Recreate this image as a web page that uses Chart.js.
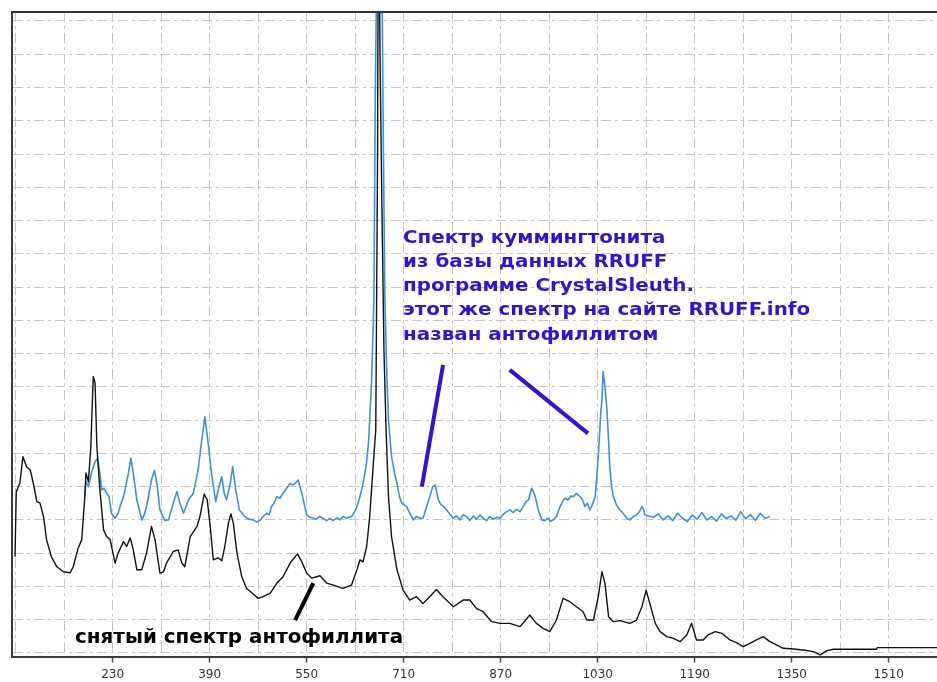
<!DOCTYPE html>
<html>
<head>
<meta charset="utf-8">
<script src="https://cdn.jsdelivr.net/npm/chart.js@4.4.1/dist/chart.umd.min.js"></script>
<style>
  html, body { margin: 0; padding: 0; background: #fff; }
  canvas { display: block; }
</style>
</head>
<body>
<canvas id="spectrum" width="937" height="682"></canvas>
<script>
// measured spectrum (black), Raman shift cm-1 / intensity
const blackX = [69, 71, 77, 82, 88, 94, 96, 99, 105, 110, 116, 121, 129, 138, 149, 160, 165, 173, 179, 184,
  186, 190, 194, 198, 201, 204, 209, 215, 220, 226, 234, 239, 248, 253, 259, 264, 270, 278, 286, 294,
  300, 308, 314, 319, 330, 338, 344, 349, 358, 369, 374, 381, 386, 391, 396, 404, 410, 415, 421, 425,
  429, 435, 443, 451, 460, 470, 478, 490, 501, 511, 523, 535, 542, 550, 558, 572, 583, 594, 610, 624,
  633, 638, 643, 649, 654, 660, 664, 667, 668.5, 671, 674, 677.5, 681, 685, 690, 699, 709, 720, 731, 742,
  753, 764, 775, 792, 808, 819, 830, 841, 855, 869, 885, 902, 918, 929, 940, 951, 962, 973, 984, 995,
  1006, 1012, 1023, 1031, 1037, 1042, 1048, 1056, 1067, 1083, 1094, 1103, 1110, 1116, 1125, 1133, 1144, 1155, 1166, 1177,
  1185, 1193, 1204, 1212, 1224, 1235, 1248, 1259, 1270, 1281, 1292, 1303, 1314, 1325, 1336, 1353, 1369, 1386, 1397, 1408,
  1419, 1490, 1491, 1590];
const blackY = [289, 484, 511, 590, 560, 550, 535, 511, 455, 451, 410, 340, 289, 259, 244, 241, 259, 315, 340, 466,
  541, 515, 620, 831, 812, 620, 490, 370, 350, 340, 270, 300, 335, 320, 346, 310, 250, 250, 301, 380,
  340, 240, 244, 271, 305, 310, 271, 259, 350, 380, 410, 478, 460, 380, 280, 286, 277, 320, 391, 418,
  391, 301, 229, 194, 180, 164, 169, 180, 210, 229, 271, 298, 274, 240, 225, 232, 210, 204, 194, 204,
  250, 280, 274, 320, 410, 570, 670, 1500, 2400, 1800, 1360, 910, 670, 469, 350, 250, 189, 159, 169, 149,
  169, 191, 169, 139, 159, 159, 134, 124, 94, 89, 89, 79, 114, 89, 74, 64, 99, 164, 154, 139,
  124, 99, 99, 169, 244, 210, 109, 94, 97, 89, 99, 139, 189, 149, 89, 64, 49, 44, 34, 54,
  89, 39, 39, 54, 64, 59, 39, 31, 19, 29, 39, 49, 34, 24, 14, 12, 9, 4, -6, 7,
  11, 11, 16, 16];

// RRUFF reference spectrum (blue)
const blueX = [184, 186, 190, 195, 201, 205, 209, 212, 216, 220, 224, 228, 234, 239, 243, 248, 256, 260, 264, 270,
  278, 282, 286, 294, 299, 303, 308, 316, 322, 326, 330, 336, 341, 347, 355, 363, 371, 377, 382, 388,
  393, 400, 404, 410, 414, 418, 424, 428, 433, 439, 448, 455, 462, 467, 473, 478, 484, 488, 492, 496,
  501, 506, 511, 517, 523, 527, 531, 536, 542, 550, 555, 561, 566, 571, 577, 583, 588, 594, 600, 605,
  610, 616, 624, 628, 633, 638, 643, 648, 652, 657, 661, 663, 665, 669, 674, 676, 679, 682.5, 685, 690,
  695, 699, 703, 707, 711, 715, 720, 726, 731, 737, 742, 748, 753, 758, 762, 765, 767, 772, 776, 781,
  786, 792, 797, 803, 808, 814, 819, 825, 830, 836, 841, 847, 852, 858, 864, 869, 875, 880, 885, 891,
  896, 902, 907, 912, 916, 921, 924, 927, 932, 938, 943, 948, 952, 957, 962, 968, 972, 976, 981, 986,
  990, 995, 1001, 1005, 1009, 1013, 1017, 1021, 1026, 1031, 1035, 1037, 1039, 1042, 1045, 1048, 1050, 1053, 1056, 1061,
  1067, 1072, 1078, 1083, 1089, 1094, 1099, 1103, 1106, 1108, 1114, 1122, 1130, 1138, 1146, 1154, 1162, 1170, 1178, 1186,
  1194, 1202, 1210, 1218, 1226, 1234, 1242, 1250, 1258, 1266, 1274, 1282, 1290, 1298, 1306, 1314];
const blueY = [470, 515, 500, 541, 575, 585, 540, 490, 495, 480, 470, 420, 405, 420, 445, 470, 540, 585, 540, 460,
  400, 415, 440, 520, 548, 510, 430, 398, 400, 425, 450, 485, 450, 420, 460, 480, 550, 640, 710, 625,
  540, 455, 490, 530, 480, 460, 510, 560, 490, 430, 410, 402, 400, 394, 398, 410, 420, 415, 440, 450,
  470, 465, 480, 495, 510, 505, 510, 520, 480, 415, 408, 405, 402, 410, 405, 398, 404, 398, 406, 400,
  410, 405, 410, 420, 440, 470, 510, 560, 630, 811, 1061, 1641, 1963, 2600, 2100, 1632, 1061, 820, 700, 590,
  540, 510, 470, 450, 445, 440, 420, 400, 410, 405, 405, 440, 470, 500, 505, 480, 460, 445, 440, 430,
  418, 405, 412, 400, 415, 410, 398, 412, 402, 415, 405, 398, 410, 402, 408, 405, 418, 425, 430, 422,
  432, 425, 440, 455, 460, 495, 485, 470, 430, 400, 398, 405, 396, 400, 410, 440, 455, 465, 460, 472,
  470, 480, 470, 460, 440, 450, 430, 445, 470, 590, 720, 760, 846, 800, 740, 640, 560, 500, 470, 445,
  430, 420, 405, 400, 410, 415, 425, 440, 430, 415, 412, 408, 418, 400, 412, 398, 420, 405, 395, 415,
  402, 422, 400, 410, 396, 418, 404, 412, 399, 425, 403, 416, 398, 420, 405, 410];

// annotation strokes, in the same axis units
const arrowBlue1 = [[775, 866], [740, 500]];
const arrowBlue2 = [[885, 851], [1014, 660]];
const arrowBlack = [[561, 210], [531, 99]];

const blueNote = [
  "Спектр куммингтонита",
  "из базы данных RRUFF",
  "программе CrystalSleuth.",
  "этот же спектр на сайте RRUFF.info",
  "назван антофиллитом"
];
const blueNoteX = 709;
const blueNoteY = [1233, 1161, 1088, 1015, 942];
const blackNote = "снятый спектр антофиллита";
const blackNoteX = 168;
const blackNoteY = 29;

const xMin = 64, xMax = 1589.7;
const yMin = -11, yMax = 1927;

const toPoints = (xs, ys) => xs.map((x, i) => ({ x: x, y: ys[i] }));
const toSegment = (seg) => seg.map(p => ({ x: p[0], y: p[1] }));
const isLabelled = (v) => v >= 230 && (v - 230) % 160 === 0;

const noteColor = '#2d14d6';

const notesPlugin = {
  id: 'notes',
  afterDatasetsDraw(chart) {
    const { ctx, scales: { x, y } } = chart;
    ctx.save();
    ctx.textBaseline = 'alphabetic';
    ctx.font = 'bold 18px "DejaVu Sans"';
    // squeeze the block so the longest line spans the same width as in the picture
    const longest = Math.max(...blueNote.map(t => ctx.measureText(t).width));
    const sBlue = 407 / longest;
    ctx.fillStyle = noteColor;
    blueNote.forEach((t, i) => {
      ctx.save();
      ctx.translate(x.getPixelForValue(blueNoteX), y.getPixelForValue(blueNoteY[i]));
      ctx.scale(sBlue, 1);
      ctx.fillText(t, 0, 0);
      ctx.restore();
    });
    ctx.font = 'bold 19px "DejaVu Sans"';
    const sBlack = 328 / ctx.measureText(blackNote).width;
    ctx.fillStyle = '#000';
    ctx.translate(x.getPixelForValue(blackNoteX), y.getPixelForValue(blackNoteY));
    ctx.scale(sBlack, 1);
    ctx.fillText(blackNote, 0, 0);
    ctx.restore();
  },
  afterDraw(chart) {
    const { ctx, chartArea } = chart;
    ctx.save();
    ctx.strokeStyle = '#333';
    ctx.lineWidth = 2;
    ctx.beginPath();
    ctx.moveTo(chartArea.left - 1, chartArea.top);
    ctx.lineTo(chartArea.right, chartArea.top);
    ctx.stroke();
    ctx.restore();
  }
};

const ctx = document.getElementById('spectrum');
new Chart(ctx, {
  type: 'line',
  data: {
    datasets: [
      {
        label: 'arrow1',
        data: toSegment(arrowBlue1),
        borderColor: noteColor,
        borderWidth: 4,
        order: -2
      },
      {
        label: 'arrow2',
        data: toSegment(arrowBlue2),
        borderColor: noteColor,
        borderWidth: 4,
        order: -2
      },
      {
        label: 'arrow3',
        data: toSegment(arrowBlack),
        borderColor: '#000',
        borderWidth: 4,
        order: -2
      },
      {
        label: 'measured',
        data: toPoints(blackX, blackY),
        borderColor: '#111',
        borderWidth: 1.4,
        order: 0
      },
      {
        label: 'RRUFF',
        data: toPoints(blueX, blueY),
        borderColor: '#3d8fe0',
        borderWidth: 1.6,
        order: 1
      }
    ]
  },
  options: {
    responsive: false,
    animation: false,
    events: [],
    layout: { padding: { left: 12, top: 12, right: 0, bottom: -5 } },
    elements: {
      point: { radius: 0 },
      line: { tension: 0, borderCapStyle: 'butt', borderJoinStyle: 'round' }
    },
    scales: {
      x: {
        type: 'linear',
        min: xMin,
        max: xMax,
        afterBuildTicks: (axis) => {
          const t = [];
          for (let v = 70; v <= xMax; v += 80) t.push({ value: v });
          axis.ticks = t;
        },
        ticks: {
          autoSkip: false,
          maxRotation: 0,
          padding: 5,
          color: '#333',
          font: { family: '"DejaVu Sans"', size: 12 },
          callback: (v) => isLabelled(v) ? String(v) : ''
        },
        grid: {
          color: '#c6c6c6',
          lineWidth: 1,
          tickLength: 6,
          tickWidth: 1.5,
          tickBorderDash: [],
          tickColor: (c) => (c.tick && isLabelled(c.tick.value)) ? '#444' : 'rgba(0,0,0,0)'
        },
        border: { display: true, color: '#3a3a3a', width: 2, dash: [10, 4, 3, 4] }
      },
      y: {
        min: yMin,
        max: yMax,
        afterBuildTicks: (axis) => {
          const t = [];
          for (let v = 0; v <= 1900; v += 100) t.push({ value: v });
          axis.ticks = t;
        },
        ticks: { display: false },
        grid: { color: '#c6c6c6', lineWidth: 1, drawTicks: false },
        border: { display: true, color: '#3a3a3a', width: 2, dash: [10, 4, 3, 4] }
      }
    },
    plugins: {
      legend: { display: false },
      tooltip: { enabled: false }
    }
  },
  plugins: [notesPlugin]
});
</script>
</body>
</html>
